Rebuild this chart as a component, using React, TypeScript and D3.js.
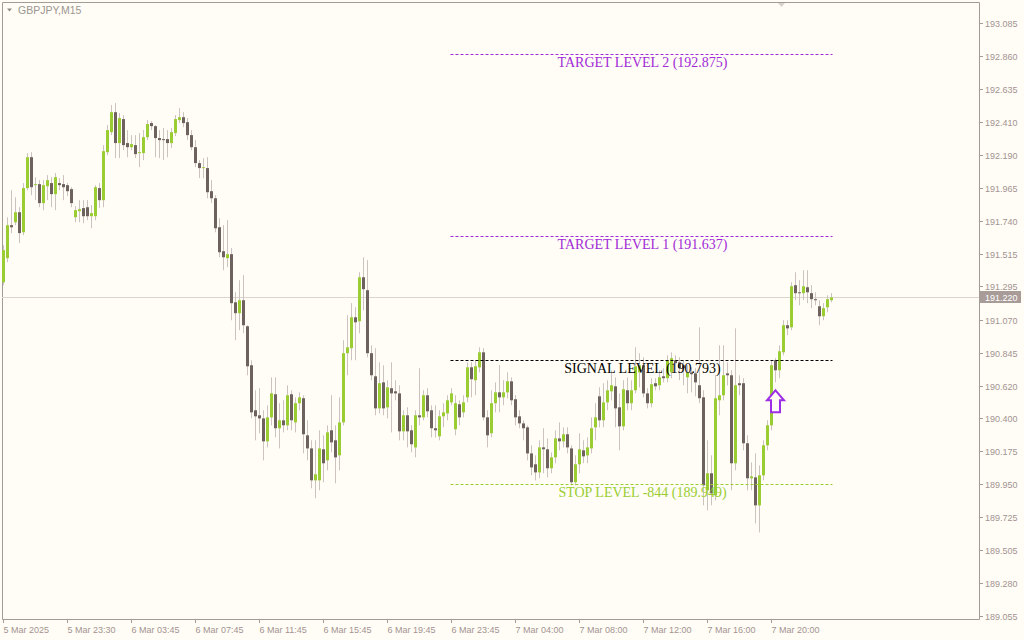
import * as d3 from 'd3'

// GBPJPY M15, one candle per 15 minutes, left to right
const opens = [
  191.323, 191.487, 191.711, 191.731, 191.799, 191.663, 191.963, 192.173, 191.983, 191.990,
  191.861, 191.976, 191.997, 191.922, 191.997, 191.990, 191.983, 191.956, 191.765, 191.806,
  191.827, 191.833, 191.772, 191.772, 191.963, 191.881, 192.207, 192.343, 192.479, 192.269,
  192.432, 192.269, 192.241, 192.255, 192.201, 192.201, 192.309, 192.405, 192.384, 192.303,
  192.296, 192.296, 192.269, 192.337, 192.425, 192.445, 192.411, 192.323, 192.241, 192.133,
  192.099, 192.099, 191.942, 191.894, 191.697, 191.534, 191.487, 191.514, 191.187, 191.113,
  191.201, 191.024, 190.759, 190.453, 190.419, 190.398, 190.242, 190.405, 190.562, 190.331,
  190.385, 190.351, 190.562, 190.371, 190.501, 190.535, 190.283, 190.194, 189.977, 189.977,
  190.188, 190.113, 190.317, 190.249, 190.147, 190.371, 190.841, 190.875, 191.085, 191.058,
  191.357, 191.269, 190.841, 190.684, 190.466, 190.643, 190.473, 190.603, 190.582, 190.568,
  190.310, 190.419, 190.317, 190.201, 190.419, 190.405, 190.555, 190.453, 190.331, 190.276,
  190.412, 190.432, 190.507, 190.324, 190.494, 190.439, 190.541, 190.745, 190.657, 190.745,
  190.847, 190.405, 190.297, 190.501, 190.575, 190.541, 190.575, 190.650, 190.528, 190.412,
  190.364, 190.337, 190.160, 190.086, 190.031, 190.201, 190.188, 190.059, 190.133, 190.262,
  190.242, 190.290, 190.194, 189.964, 190.086, 190.181, 190.147, 190.194, 190.337, 190.548,
  190.385, 190.507, 190.582, 190.616, 190.473, 190.344, 190.589, 190.501, 190.589, 190.711,
  190.759, 190.568, 190.501, 190.637, 190.623, 190.684, 190.671, 190.711, 190.793, 190.779,
  190.759, 190.677, 190.711, 190.704, 190.623, 190.541, 189.909, 190.025, 189.875, 190.521,
  190.555, 190.704, 190.691, 190.093, 190.637, 190.637, 190.229, 189.991, 189.997, 189.807,
  190.011, 190.215, 190.351, 190.793, 190.725, 190.847, 191.031, 191.017, 191.303, 191.255,
  191.249, 191.289, 191.249, 191.208, 191.160, 191.092, 191.153, 191.201,
]
const highs = [
  191.575, 191.765, 191.949, 191.901, 191.833, 191.997, 192.201, 192.207, 192.037, 192.017,
  192.017, 192.051, 192.037, 192.065, 192.031, 192.051, 191.997, 191.969, 191.840, 191.881,
  191.881, 191.881, 191.847, 191.983, 191.997, 192.255, 192.391, 192.527, 192.541, 192.473,
  192.459, 192.357, 192.323, 192.323, 192.337, 192.357, 192.425, 192.418, 192.391, 192.357,
  192.371, 192.357, 192.371, 192.459, 192.507, 192.479, 192.439, 192.357, 192.289, 192.153,
  192.167, 192.173, 192.017, 191.915, 191.758, 191.711, 191.745, 191.555, 191.255, 191.337,
  191.371, 191.031, 190.793, 190.589, 190.603, 190.453, 190.487, 190.677, 190.677, 190.501,
  190.521, 190.623, 190.589, 190.541, 190.575, 190.555, 190.385, 190.249, 190.249, 190.317,
  190.283, 190.351, 190.555, 190.351, 190.541, 190.929, 191.099, 191.181, 191.153, 191.391,
  191.493, 191.473, 190.895, 190.875, 190.779, 190.759, 190.657, 190.779, 190.657, 190.623,
  190.453, 190.473, 190.351, 190.453, 190.739, 190.589, 190.603, 190.487, 190.487, 190.453,
  190.501, 190.555, 190.603, 190.555, 190.521, 190.555, 190.779, 190.779, 190.793, 190.881,
  190.875, 190.453, 190.589, 190.643, 190.759, 190.657, 190.711, 190.677, 190.555, 190.453,
  190.385, 190.351, 190.215, 190.147, 190.249, 190.331, 190.262, 190.167, 190.317, 190.371,
  190.337, 190.337, 190.215, 190.147, 190.297, 190.249, 190.269, 190.405, 190.501, 190.609,
  190.637, 190.657, 190.725, 190.677, 190.568, 190.657, 190.677, 190.657, 190.881, 190.841,
  190.813, 190.603, 190.671, 190.671, 190.725, 190.739, 190.827, 190.847, 190.827, 190.813,
  190.793, 190.759, 190.745, 190.739, 191.017, 190.589, 190.249, 190.147, 190.691, 190.895,
  190.895, 190.779, 190.725, 191.010, 190.691, 190.671, 190.283, 190.099, 190.160, 190.079,
  190.249, 190.385, 190.793, 190.807, 190.895, 191.065, 191.065, 191.323, 191.391, 191.337,
  191.405, 191.405, 191.303, 191.255, 191.201, 191.181, 191.235, 191.249,
]
const lows = [
  191.303, 191.459, 191.657, 191.711, 191.589, 191.643, 191.949, 191.915, 191.881, 191.833,
  191.813, 191.881, 191.833, 191.813, 191.949, 191.881, 191.908, 191.833, 191.731, 191.731,
  191.724, 191.745, 191.690, 191.745, 191.827, 191.833, 192.187, 192.323, 192.167, 192.167,
  192.221, 192.173, 192.221, 192.167, 192.105, 192.153, 192.289, 192.357, 192.173, 192.167,
  192.153, 192.173, 192.235, 192.316, 192.405, 192.377, 192.289, 192.221, 192.105, 192.031,
  192.031, 191.894, 191.861, 191.663, 191.493, 191.405, 191.425, 191.065, 190.929, 190.997,
  190.977, 190.691, 190.398, 190.249, 190.297, 190.113, 190.201, 190.351, 190.269, 190.194,
  190.303, 190.317, 190.317, 190.303, 190.453, 190.160, 190.113, 189.923, 189.855, 189.909,
  189.964, 190.045, 190.167, 189.957, 190.045, 190.351, 190.691, 190.793, 190.793, 190.977,
  191.133, 190.813, 190.657, 190.419, 190.432, 190.419, 190.398, 190.303, 190.521, 190.249,
  190.249, 190.201, 190.167, 190.133, 190.351, 190.385, 190.405, 190.269, 190.269, 190.249,
  190.337, 190.385, 190.487, 190.283, 190.351, 190.405, 190.507, 190.541, 190.555, 190.711,
  190.385, 190.201, 190.269, 190.439, 190.439, 190.487, 190.535, 190.487, 190.351, 190.331,
  190.249, 190.113, 190.011, 189.977, 189.991, 190.025, 189.997, 190.025, 190.093, 190.181,
  190.201, 190.160, 189.943, 189.943, 190.025, 190.093, 190.093, 190.160, 190.249, 190.337,
  190.337, 190.453, 190.521, 190.337, 190.181, 190.317, 190.453, 190.453, 190.568, 190.609,
  190.541, 190.466, 190.473, 190.589, 190.589, 190.643, 190.643, 190.671, 190.711, 190.657,
  190.623, 190.568, 190.575, 190.548, 190.501, 189.807, 189.773, 189.807, 189.841, 190.419,
  190.521, 190.623, 189.909, 190.045, 190.555, 190.181, 189.909, 189.909, 189.684, 189.623,
  189.977, 190.181, 190.317, 190.643, 190.671, 190.827, 190.963, 190.997, 191.201, 191.167,
  191.201, 191.181, 191.147, 191.167, 191.031, 191.065, 191.119, 191.187,
]
const closes = [
  191.541, 191.711, 191.697, 191.799, 191.657, 191.963, 192.173, 191.969, 191.990, 191.861,
  191.983, 192.017, 191.922, 192.037, 191.983, 191.969, 191.942, 191.861, 191.813, 191.820,
  191.772, 191.772, 191.793, 191.969, 191.881, 192.214, 192.357, 192.479, 192.269, 192.439,
  192.255, 192.241, 192.262, 192.194, 192.207, 192.309, 192.398, 192.384, 192.303, 192.289,
  192.289, 192.269, 192.343, 192.432, 192.445, 192.405, 192.323, 192.241, 192.133, 192.099,
  192.105, 191.935, 191.894, 191.690, 191.527, 191.493, 191.514, 191.181, 191.113, 191.201,
  191.031, 190.752, 190.439, 190.412, 190.398, 190.242, 190.405, 190.568, 190.331, 190.385,
  190.351, 190.555, 190.385, 190.501, 190.541, 190.290, 190.194, 189.977, 190.018, 190.194,
  190.093, 190.303, 190.235, 190.133, 190.371, 190.841, 190.881, 191.085, 191.051, 191.357,
  191.276, 190.841, 190.691, 190.466, 190.637, 190.466, 190.609, 190.568, 190.568, 190.310,
  190.419, 190.310, 190.222, 190.419, 190.405, 190.555, 190.446, 190.331, 190.317, 190.412,
  190.439, 190.521, 190.568, 190.501, 190.405, 190.507, 190.745, 190.664, 190.752, 190.847,
  190.405, 190.283, 190.501, 190.575, 190.541, 190.575, 190.650, 190.521, 190.405, 190.364,
  190.331, 190.160, 190.065, 190.031, 190.201, 190.188, 190.059, 190.133, 190.262, 190.242,
  190.290, 190.201, 189.964, 190.086, 190.188, 190.140, 190.201, 190.331, 190.405, 190.385,
  190.507, 190.589, 190.623, 190.466, 190.344, 190.596, 190.501, 190.589, 190.752, 190.759,
  190.568, 190.501, 190.630, 190.616, 190.677, 190.671, 190.793, 190.807, 190.773, 190.739,
  190.739, 190.711, 190.698, 190.643, 190.535, 189.943, 190.025, 189.889, 190.535, 190.555,
  190.691, 190.691, 190.093, 190.623, 190.623, 190.229, 189.991, 190.004, 189.807, 190.011,
  190.215, 190.351, 190.759, 190.725, 190.854, 191.031, 191.010, 191.296, 191.249, 191.249,
  191.296, 191.255, 191.208, 191.201, 191.092, 191.147, 191.208, 191.220,
]

const priceTicks = [
  '193.085', '192.860', '192.635', '192.410', '192.190', '191.965', '191.740', '191.515',
  '191.295', '191.070', '190.845', '190.620', '190.400', '190.175', '189.950', '189.725',
  '189.505', '189.280', '189.055',
]
const timeTickBars = [0, 16, 32, 48, 64, 80, 96, 112, 128, 144, 160, 176, 192]
const timeLabels = [
  '5 Mar 2025', '5 Mar 23:30', '6 Mar 03:45', '6 Mar 07:45', '6 Mar 11:45', '6 Mar 15:45',
  '6 Mar 19:45', '6 Mar 23:45', '7 Mar 04:00', '7 Mar 08:00', '7 Mar 12:00', '7 Mar 16:00',
  '7 Mar 20:00',
]

const levelNames = ['TARGET LEVEL 2 (192.875)', 'TARGET LEVEL 1 (191.637)', 'SIGNAL LEVEL (190.793)', 'STOP LEVEL -844 (189.949)']
const levelPrices = [192.875, 191.637, 190.793, 189.949]
const levelColors = ['#a22ad8', '#a22ad8', '#000000', '#9acd32']
const levelStartBar = 112

const signalBar = 193
const signalPrice = 190.589
const lastPrice = 191.22

const bg = '#fffdf5'
const frame = '#a39c94'
const axisText = '#a39393'
const upColor = '#9acd32'
const downColor = '#6d625d'
const wickColor = '#ccc2c0'

export default function App() {
  const n = opens.length
  const plotL = 2
  const plotT = 2
  const plotR = 979
  const plotB = 619

  const x = d3.scaleLinear().domain([0, n - 1]).range([3.5, 831.5])
  const y = d3.scaleLinear().domain([189.055, 193.085]).range([616, 23])

  const candles = d3.range(n).map((i) => ({ i, o: opens[i], h: highs[i], l: lows[i], c: closes[i] }))

  const ax = x(signalBar)
  const ay = y(signalPrice)
  const arrowPath = d3.path()
  arrowPath.moveTo(ax, ay)
  arrowPath.lineTo(ax + 8.5, ay + 10)
  arrowPath.lineTo(ax + 4.5, ay + 10)
  arrowPath.lineTo(ax + 4.5, ay + 22)
  arrowPath.lineTo(ax - 4.5, ay + 22)
  arrowPath.lineTo(ax - 4.5, ay + 10)
  arrowPath.lineTo(ax - 8.5, ay + 10)
  arrowPath.closePath()

  const lastY = Math.round(y(lastPrice)) + 0.5

  return (
    <svg
      width={1024}
      height={640}
      style={{ position: 'fixed', left: 0, top: 0, background: bg, display: 'block' }}
    >
      <rect x={0} y={0} width={1024} height={640} fill={bg} />

      {/* frame */}
      <path
        d={`M${plotL + 0.5},${plotB + 0.5}V${plotT + 0.5}H${plotR + 0.5}V${plotB + 0.5}Z`}
        fill="none"
        stroke={frame}
      />

      <text x={18} y={14} fontFamily="Liberation Sans, Arial, sans-serif" fontSize={10.5} fill="#9a9590">
        {'GBPJPY,M15'}
      </text>
      <path d="M7,8.5 L12,8.5 L9.5,11.5 Z" fill="#8f8a86" />
      <path d="M778,3 L785,3 L781.5,7 Z" fill="#d8d2cc" />

      {/* current price line */}
      <line x1={plotL} x2={plotR} y1={lastY} y2={lastY} stroke="#ddd6ce" />

      {/* candles */}
      {candles.map((d) => {
        const cx = x(d.i)
        const up = d.c >= d.o
        const top = y(Math.max(d.o, d.c))
        const bot = y(Math.min(d.o, d.c))
        const h = Math.max(1, bot - top)
        return (
          <g key={d.i}>
            <line x1={cx} x2={cx} y1={y(d.h)} y2={y(d.l)} stroke={wickColor} />
            <rect x={cx - 1.5} y={top} width={3} height={h} fill={up ? upColor : downColor} />
          </g>
        )
      })}

      {/* levels */}
      {levelPrices.map((p, k) => {
        const ly = Math.round(y(p)) + 0.5
        const x1 = x(levelStartBar) - 1
        const x2 = x(n - 1) + 1
        return (
          <g key={levelNames[k]}>
            <line x1={x1} x2={x2} y1={ly} y2={ly} stroke={levelColors[k]} strokeDasharray="3,2" />
            <text
              x={(x1 + x2) / 2 + 1}
              y={ly + 12}
              textAnchor="middle"
              fontFamily="Liberation Serif, Times New Roman, serif"
              fontSize={14}
              fill={levelColors[k]}
            >
              {levelNames[k]}
            </text>
          </g>
        )
      })}

      {/* signal arrow */}
      <path d={arrowPath.toString()} fill={bg} stroke="#9d2fe6" strokeWidth={2} strokeLinejoin="miter" />

      {/* right price axis */}
      {priceTicks.map((t) => {
        const ty = Math.round(y(+t)) + 0.5
        return (
          <g key={t}>
            <line x1={plotR + 0.5} x2={plotR + 4} y1={ty} y2={ty} stroke={frame} />
            <text x={985} y={ty + 3.5} fontFamily="Liberation Sans, Arial, sans-serif" fontSize={9} fill={axisText}>
              {t}
            </text>
          </g>
        )
      })}
      <rect x={980} y={lastY - 6.5} width={41} height={12} fill="#a89b98" />
      <text x={985} y={lastY + 3.5} fontFamily="Liberation Sans, Arial, sans-serif" fontSize={9} fill="#ffffff">
        {lastPrice.toFixed(3)}
      </text>

      {/* bottom time axis */}
      {timeTickBars.map((b, k) => {
        const tx = Math.round(x(b)) - 0.5
        return (
          <g key={b}>
            <line x1={tx} x2={tx} y1={plotB + 0.5} y2={plotB + 4} stroke={frame} />
            <text x={tx} y={633} fontFamily="Liberation Sans, Arial, sans-serif" fontSize={9} fill={axisText}>
              {timeLabels[k]}
            </text>
          </g>
        )
      })}
    </svg>
  )
}
